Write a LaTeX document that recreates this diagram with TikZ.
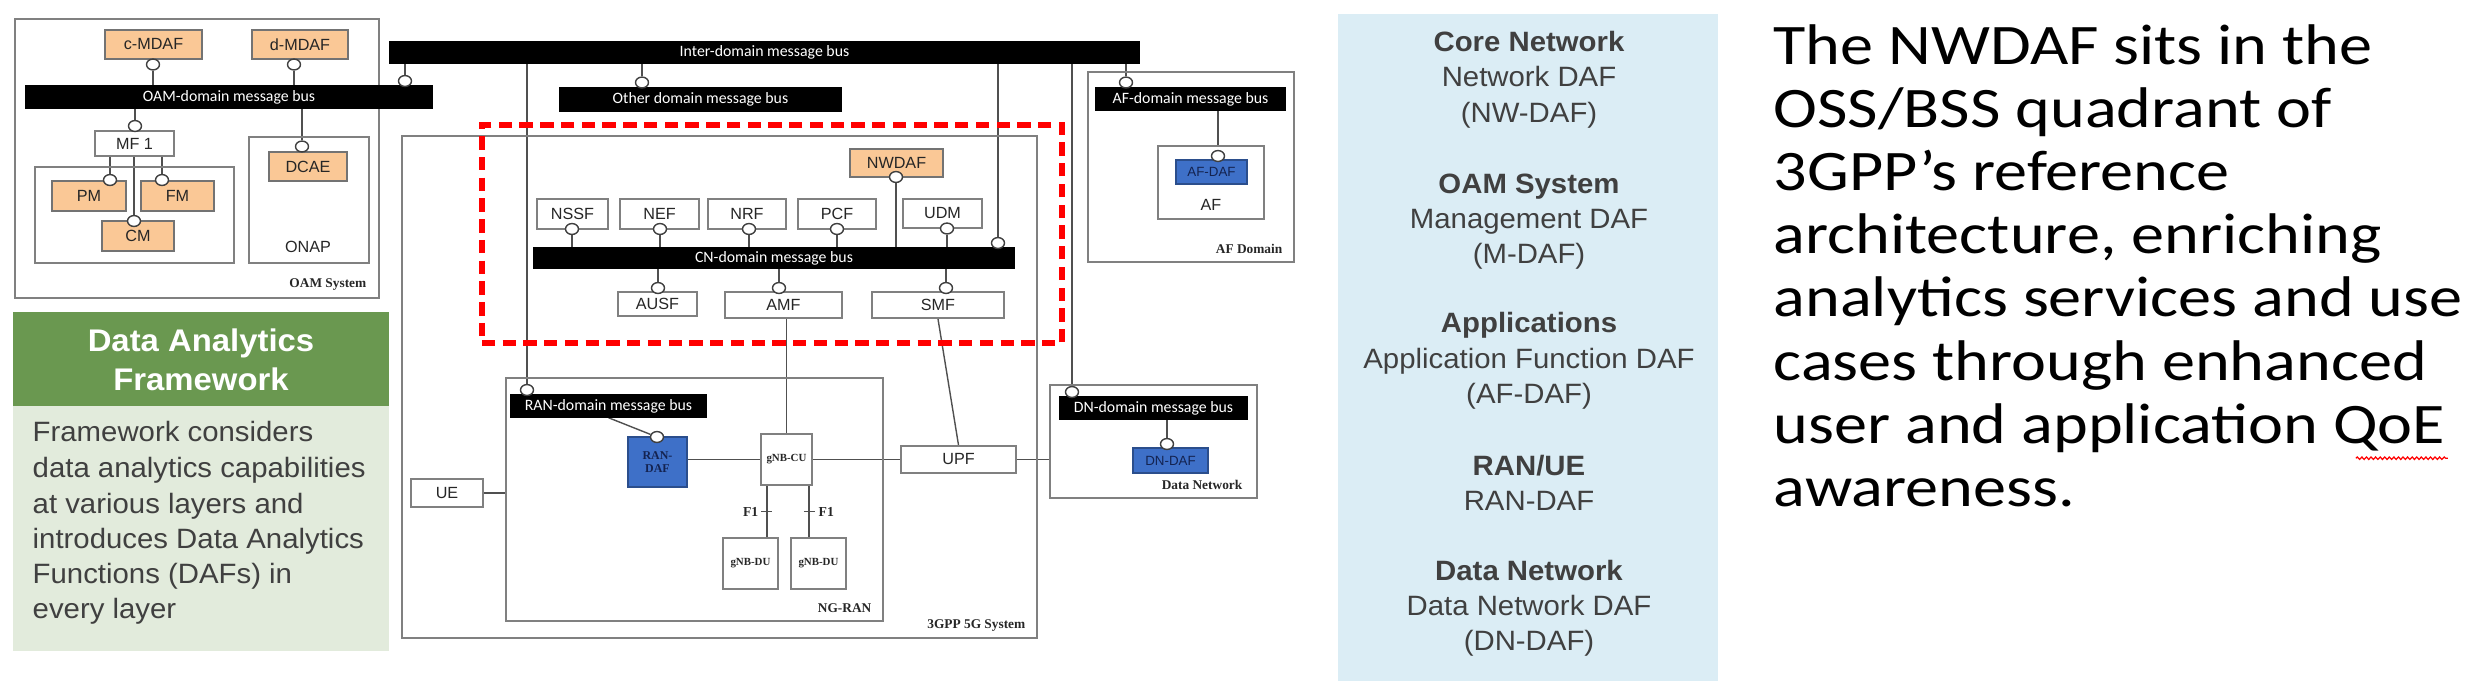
\documentclass[tikz,border=0pt]{standalone}
\usepackage{fontspec}
\setmainfont{Liberation Serif}
\newfontfamily\fsans{Liberation Sans}
\newfontfamily\fpanel[FakeStretch=1.05]{Liberation Sans}
\newfontfamily\fcal{Carlito}
\newfontfamily\fbig[FakeStretch=1.155]{Carlito}
\usetikzlibrary{shapes.geometric,calc,decorations.pathmorphing}
\pgfdeclarelayer{bg}
\pgfsetlayers{bg,main}
\definecolor{orng}{RGB}{250,200,150}
\definecolor{dafblue}{RGB}{62,112,200}
\definecolor{navy}{RGB}{20,35,80}
\definecolor{hdrgreen}{RGB}{106,152,80}
\definecolor{bodygreen}{RGB}{226,235,220}
\definecolor{panelblue}{RGB}{219,237,245}
\definecolor{txtgray}{RGB}{64,64,64}
\definecolor{boxgray}{RGB}{128,128,128}
\definecolor{linegray}{RGB}{80,80,80}
\newcommand\bx[7]{\node[#2, minimum width={(#5-#3)*0.28453pt}, minimum height={(#6-#4)*0.28453pt}] (#1) at ({(#3+#5)/2},{(#4+#6)/2}) {#7};}
\newcommand\lp[3]{\node[lol] (#1) at (#2,#3) {};}
\tikzset{
  frame/.style={draw=boxgray, line width=0.55pt, inner sep=0pt},
  nf/.style={draw=boxgray, fill=white, line width=0.55pt, inner sep=0pt, text=black!85, font=\fsans\fontsize{4.6pt}{5pt}\selectfont},
  orbox/.style={nf, fill=orng, draw=black!55},
  bus/.style={fill=black, draw=black, inner sep=0pt, text=white, font=\fcal\fontsize{4.5pt}{5pt}\selectfont},
  daf/.style={fill=dafblue, draw=dafblue!70!black, line width=0.5pt, inner sep=0pt, text=navy, font=\fsans\fontsize{3.8pt}{4pt}\selectfont},
  lol/.style={ellipse, draw=black!75, fill=white, line width=0.4pt, minimum width=3.7pt, minimum height=3.1pt, inner sep=0pt},
  conn/.style={draw=linegray, line width=0.4pt},
  slbl/.style={font=\bfseries\fontsize{3.8pt}{4pt}\selectfont, inner sep=0pt, text=black!85},
  sflbl/.style={font=\fsans\fontsize{4.6pt}{5pt}\selectfont, inner sep=0pt, text=black!85},
  ptxt/.style={anchor=base, inner sep=0pt, text=txtgray, font=\fpanel\fontsize{7.95pt}{9pt}\selectfont},
  ptxtb/.style={ptxt, font=\fpanel\bfseries\fontsize{7.95pt}{9pt}\selectfont},
  dtxt/.style={anchor=base west, inner sep=0pt, text=txtgray, font=\fpanel\fontsize{7.95pt}{9pt}\selectfont},
  htxt/.style={anchor=base, inner sep=0pt, text=white, font=\fpanel\bfseries\fontsize{8.9pt}{10pt}\selectfont},
  rtxt/.style={anchor=base west, inner sep=0pt, text=black, font=\fbig\fontsize{16.3pt}{18pt}\selectfont},
  reddash/.style={draw=red, line width=1.6pt, dash pattern=on 3.8pt off 2.1pt, inner sep=0pt}
}
\begin{document}
\begin{tikzpicture}[x=0.01cm,y=-0.01cm]
\useasboundingbox (0,0) rectangle (2475,681);
% ---------- frames ----------
\bx{oamsys}{frame}{15}{19}{379}{298}{}
\bx{pmgrp}{frame}{35}{167}{234}{263}{}
\bx{onap}{frame}{249}{137}{369}{263}{}
\bx{gppsys}{frame}{402}{136}{1037}{638}{}
\bx{ngran}{frame}{506}{378}{883}{621}{}
\bx{afdom}{frame}{1088}{72}{1294}{262}{}
\bx{dnbox}{frame}{1050}{385}{1257}{498}{}
\bx{afbox}{nf}{1158}{146}{1264}{219}{}
% ---------- buses ----------
\bx{interbus}{bus}{390}{42}{1139}{63}{Inter-domain message bus}
\bx{oambus}{bus}{26}{86}{432}{108}{OAM-domain message bus}
\bx{othbus}{bus}{560}{88}{841}{111}{Other domain message bus}
\bx{cnbus}{bus}{534}{248}{1014}{268}{CN-domain message bus}
\bx{afbus}{bus}{1096}{88}{1285}{110}{AF-domain message bus}
\bx{ranbus}{bus}{511}{395}{706}{417}{RAN-domain message bus}
\bx{dnbus}{bus}{1060}{397}{1247}{419}{DN-domain message bus}
% ---------- boxes ----------
\bx{cmdaf}{orbox}{105}{30}{202}{59}{c-MDAF}
\bx{dmdaf}{orbox}{252}{30}{348}{59}{d-MDAF}
\bx{mf}{nf}{95}{131}{174}{156}{MF 1}
\bx{pm}{orbox}{52}{181}{126}{211}{PM}
\bx{fm}{orbox}{141}{181}{214}{211}{FM}
\bx{cm}{orbox}{102}{221}{174}{251}{CM}
\bx{dcae}{orbox}{269}{152}{347}{181}{DCAE}
\bx{nwdaf}{orbox}{850}{149}{943}{177}{NWDAF}
\bx{nssf}{nf}{537}{199}{608}{229}{NSSF}
\bx{nef}{nf}{620}{199}{699}{229}{NEF}
\bx{nrf}{nf}{708}{199}{786}{229}{NRF}
\bx{pcf}{nf}{798}{199}{876}{229}{PCF}
\bx{udm}{nf}{903}{199}{982}{228}{UDM}
\bx{ausf}{nf}{618}{292}{697}{316}{AUSF}
\bx{amf}{nf}{725}{292}{842}{318}{AMF}
\bx{smf}{nf}{872}{292}{1004}{318}{SMF}
\bx{afdaf}{daf}{1176}{160}{1247}{184}{AF-DAF}
\bx{randaf}{daf, font=\bfseries\fontsize{3.4pt}{3.8pt}\selectfont, align=center}{628}{437}{687}{487}{RAN-\\DAF}
\bx{gnbcu}{nf, font=\bfseries\fontsize{3.1pt}{3.5pt}\selectfont}{761}{434}{812}{485}{gNB-CU}
\bx{du1}{nf, font=\bfseries\fontsize{3.1pt}{3.5pt}\selectfont}{723}{538}{778}{589}{gNB-DU}
\bx{du2}{nf, font=\bfseries\fontsize{3.1pt}{3.5pt}\selectfont}{791}{538}{846}{589}{gNB-DU}
\bx{ue}{nf}{411}{479}{483}{507}{UE}
\bx{upf}{nf}{901}{446}{1016}{473}{UPF}
\bx{dndaf}{daf}{1133}{448}{1208}{473}{DN-DAF}
% ---------- labels ----------
\node[slbl, anchor=base east] (loam) at (367,287) {OAM System};
\node[sflbl, anchor=base] (lonap) at (308,252) {ONAP};
\node[slbl, anchor=base east] (lafd) at (1283,253) {AF Domain};
\node[sflbl, anchor=base] (laflbl) at (1211,210) {AF};
\node[slbl, anchor=base east] (ldn) at (1243,489) {Data Network};
\node[slbl, anchor=base east] (lgpp) at (1026,628) {3GPP 5G System};
\node[slbl, anchor=base east] (lngran) at (872,612) {NG-RAN};
% ---------- lollipops ----------
\lp{lOAMi}{405}{81}
\lp{lc}{153}{64.5}
\lp{ld}{294}{64.5}
\lp{lmf}{135}{126}
\lp{lpm}{110}{180}
\lp{lfm}{162}{180}
\lp{lcm}{134}{221}
\lp{ldcae}{302}{146.5}
\lp{loth}{642}{82.5}
\lp{lran}{527}{390}
\lp{lcn}{998}{243}
\lp{ldnb}{1072}{392}
\lp{laf}{1126}{82.5}
\lp{lnssf}{572}{229}
\lp{lnef}{660}{229}
\lp{lnrf}{749}{229}
\lp{lpcf}{837}{229}
\lp{ludm}{947}{228.5}
\lp{lnw}{896}{177}
\lp{lausf}{658}{288}
\lp{lamf}{779}{288}
\lp{lsmf}{946}{288}
\lp{lafdaf}{1218}{156}
\lp{ldndaf}{1167}{444}
\lp{lrd}{657}{437}
% ---------- F1 ----------
\coordinate (f1a) at ($(gnbcu.south west)+(7,0)$);
\coordinate (f1b) at ($(gnbcu.south east)+(-4,0)$);
\coordinate (t1) at ($(f1a)!0.5!(f1a |- du1.north)$);
\coordinate (t2) at ($(f1b)!0.5!(f1b |- du2.north)$);
\node[slbl, font=\bfseries\fontsize{3.9pt}{4pt}\selectfont, anchor=east] (f1la) at ($(t1)+(-8,0)$) {F1};
\node[slbl, font=\bfseries\fontsize{3.9pt}{4pt}\selectfont, anchor=west] (f1lb) at ($(t2)+(9,0)$) {F1};
% ---------- connectors ----------
\begin{pgfonlayer}{bg}
\draw[conn] (lOAMi) -- (lOAMi |- interbus.south);
\draw[conn] (lc) -- (lc |- oambus.north);
\draw[conn] (ld) -- (ld |- oambus.north);
\draw[conn] (lmf) -- (lmf |- oambus.south);
\draw[conn] (lpm) -- (lpm |- mf.south);
\draw[conn] (lfm) -- (lfm |- mf.south);
\draw[conn] (lcm) -- (lcm |- mf.south);
\draw[conn] (ldcae) -- (ldcae |- oambus.south);
\draw[conn] (loth) -- (loth |- interbus.south);
\draw[conn] (lran) -- (lran |- interbus.south);
\draw[conn] (lcn) -- (lcn |- interbus.south);
\draw[conn] (ldnb) -- (ldnb |- interbus.south);
\draw[conn] (laf) -- (laf |- interbus.south);
\foreach \n in {lnssf,lnef,lnrf,lpcf,ludm,lnw} \draw[conn] (\n) -- (\n |- cnbus.north);
\foreach \n in {lausf,lamf,lsmf} \draw[conn] (\n) -- (\n |- cnbus.south);
\draw[conn] (lafdaf) -- (lafdaf |- afbus.south);
\draw[conn] (ldndaf) -- (ldndaf |- dnbus.south);
\draw[conn] (ranbus.south) -- (lrd);
\draw[conn] (gnbcu.north) -- (gnbcu.north |- amf.south);
\draw[conn] (smf.south) -- (upf.north);
\draw[conn] (randaf.east |- gnbcu.west) -- (gnbcu.west);
\draw[conn] (gnbcu.east) -- (upf.west);
\draw[conn] (upf.east) -- (upf.east -| dnbox.west);
\draw[conn] (ue.east) -- (ue.east -| ngran.west);
\draw[conn] (f1a) -- (f1a |- du1.north);
\draw[conn] (f1b) -- (f1b |- du2.north);
\draw[conn] ($(t1)+(-6,0)$) -- ($(t1)+(5,0)$);
\draw[conn] ($(t2)+(-5,0)$) -- ($(t2)+(6,0)$);
\end{pgfonlayer}
% ---------- red dashed region ----------
\bx{redbox}{reddash}{482}{125}{1062}{343}{}
% ---------- Data Analytics Framework panel ----------
\bx{dafhdr}{fill=hdrgreen, inner sep=0pt}{13}{312}{389}{406}{}
\bx{dafbody}{fill=bodygreen, inner sep=0pt}{13}{406}{389}{651}{}
\node[htxt] (h1) at (201,351) {Data Analytics};
\node[htxt] (h2) at (201,390) {Framework};
\node[dtxt] (d1) at (32,441) {Framework considers};
\node[dtxt] (d2) at (32,477) {data analytics capabilities};
\node[dtxt] (d3) at (32,513) {at various layers and};
\node[dtxt] (d4) at (32,548) {introduces Data Analytics};
\node[dtxt] (d5) at (32,583) {Functions (DAFs) in};
\node[dtxt] (d6) at (32,618) {every layer};
% ---------- blue panel ----------
\bx{bpanel}{fill=panelblue, inner sep=0pt}{1338}{14}{1718}{681}{}
\node[ptxtb] (p1) at (1529,51) {Core Network};
\node[ptxt] (p2) at (1529,86) {Network DAF};
\node[ptxt] (p3) at (1529,122) {(NW-DAF)};
\node[ptxtb] (p4) at (1529,193) {OAM System};
\node[ptxt] (p5) at (1529,228) {Management DAF};
\node[ptxt] (p6) at (1529,263) {(M-DAF)};
\node[ptxtb] (p7) at (1529,332) {Applications};
\node[ptxt] (p8) at (1529,368) {Application Function DAF};
\node[ptxt] (p9) at (1529,403) {(AF-DAF)};
\node[ptxtb] (p10) at (1529,475) {RAN/UE};
\node[ptxt] (p11) at (1529,510) {RAN-DAF};
\node[ptxtb] (p12) at (1529,580) {Data Network};
\node[ptxt] (p13) at (1529,615) {Data Network DAF};
\node[ptxt] (p14) at (1529,650) {(DN-DAF)};
% ---------- right text ----------
\node[rtxt] (r1) at (1773,64) {The NWDAF sits in the};
\node[rtxt] (r2) at (1773,127.2) {OSS/BSS quadrant of};
\node[rtxt] (r3) at (1773,190.4) {3GPP’s reference};
\node[rtxt] (r4) at (1773,253.6) {architecture, enriching};
\node[rtxt] (r5) at (1773,316.8) {analytics services and use};
\node[rtxt] (r6) at (1773,380) {cases through enhanced};
\node[rtxt] (r7) at (1773,443.2) {user and application QoE};
\node[rtxt] (r8) at (1773,506.4) {awareness.};
\coordinate (sq1) at ($(r7.base east)+(-90,15)$);
\coordinate (sq2) at ($(r7.base east)+(2,15)$);
\draw[red, line width=0.35pt, decorate, decoration={snake, amplitude=0.35pt, segment length=1.3pt}] (sq1) -- (sq2);
\end{tikzpicture}
\end{document}
